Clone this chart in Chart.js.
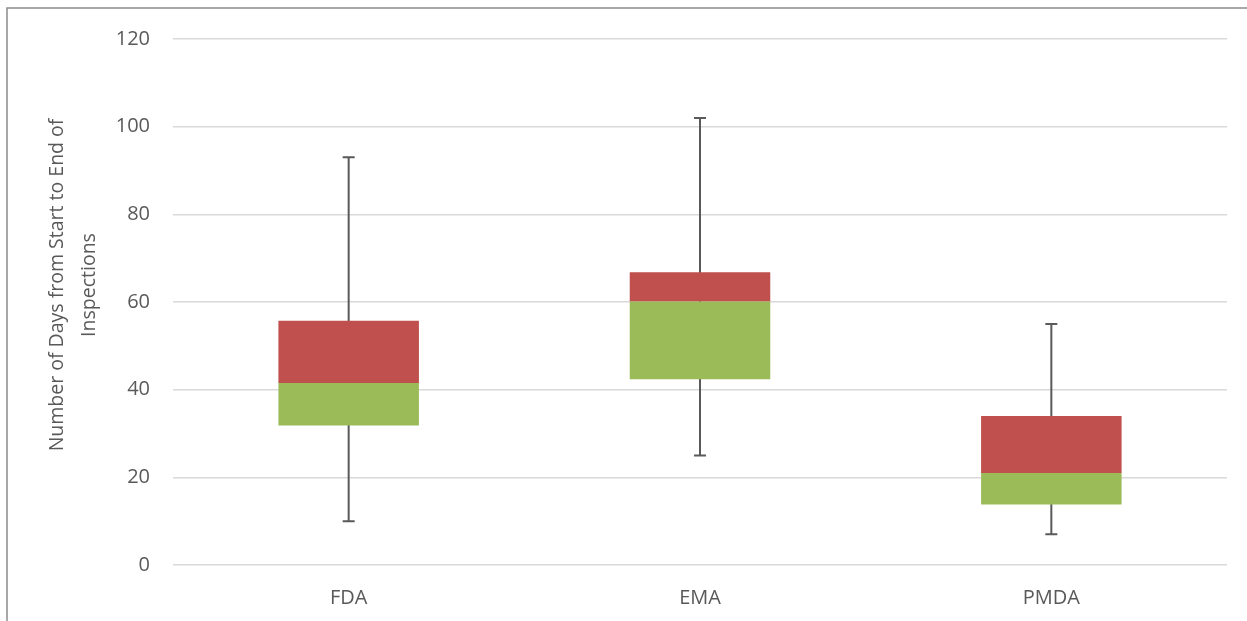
<!DOCTYPE html>
<html>
<head>
<meta charset="utf-8">
<script src="https://cdn.jsdelivr.net/npm/chart.js@4/dist/chart.umd.min.js"></script>
<style>
html,body{margin:0;padding:0;background:#fff;}
#wrap{width:1247px;height:621px;position:relative;}
</style>
</head>
<body>
<div id="wrap"><canvas id="c" width="1247" height="621"></canvas></div>
<script>
const categories = ['FDA', 'EMA', 'PMDA'];
const minValues = [10, 25, 7];
const q1Values = [31.8, 42.4, 13.8];
const medianValues = [41.5, 60.1, 21.0];
const q3Values = [55.7, 66.8, 34.0];
const maxValues = [93, 102, 55];
const yTicks = [0, 20, 40, 60, 80, 100, 120];
const yTitleLines = ['Number of Days from Start to End of', 'Inspections'];

const FONT = '"Open Sans", sans-serif';

const whiskerPlugin = {
  id: 'whiskers',
  beforeDraw(chart) {
    const ctx = chart.ctx;
    ctx.save();
    ctx.fillStyle = '#ffffff';
    ctx.fillRect(0, 0, chart.width, chart.height);
    ctx.strokeStyle = '#8c8c8c';
    ctx.lineWidth = 1.5;
    ctx.beginPath();
    ctx.moveTo(7, chart.height + 5);
    ctx.lineTo(7, 8);
    ctx.lineTo(chart.width + 5, 8);
    ctx.stroke();
    ctx.restore();
  },
  beforeDatasetsDraw(chart) {
    const ctx = chart.ctx;
    const xs = chart.scales.x, ys = chart.scales.y;
    ctx.save();
    ctx.strokeStyle = '#5a5a5a';
    ctx.lineWidth = 2;
    categories.forEach((c, i) => {
      const x = xs.getPixelForValue(i);
      const yMin = ys.getPixelForValue(minValues[i]);
      const yMax = ys.getPixelForValue(maxValues[i]);
      ctx.beginPath();
      ctx.moveTo(x, yMin);
      ctx.lineTo(x, yMax);
      ctx.moveTo(x - 6, yMin);
      ctx.lineTo(x + 6, yMin);
      ctx.moveTo(x - 6, yMax);
      ctx.lineTo(x + 6, yMax);
      ctx.stroke();
    });
    ctx.restore();
  },
  afterDraw(chart) {
    const ctx = chart.ctx;
    ctx.save();
    ctx.translate(57, 285);
    ctx.rotate(-Math.PI / 2);
    ctx.fillStyle = '#595959';
    ctx.font = '19.5px ' + FONT;
    ctx.textAlign = 'center';
    ctx.textBaseline = 'middle';
    yTitleLines.forEach((t, i) => ctx.fillText(t, 0, i * 32));
    ctx.restore();
  }
};

new Chart(document.getElementById('c'), {
  type: 'bar',
  data: {
    labels: categories,
    datasets: [
      {
        label: 'Q1-Median',
        data: categories.map((c, i) => [q1Values[i], medianValues[i]]),
        backgroundColor: '#9BBB59',
        borderWidth: 0,
        categoryPercentage: 0.4,
        barPercentage: 1.0
      },
      {
        label: 'Median-Q3',
        data: categories.map((c, i) => [medianValues[i], q3Values[i]]),
        backgroundColor: '#C0504D',
        borderWidth: 0,
        categoryPercentage: 0.4,
        barPercentage: 1.0
      }
    ]
  },
  options: {
    responsive: false,
    animation: false,
    layout: { padding: { left: 0, right: 20, top: 39, bottom: 0 } },
    plugins: { legend: { display: false }, tooltip: { enabled: false } },
    scales: {
      x: {
        stacked: true,
        grid: { display: false },
        border: { display: false },
        ticks: { color: '#595959', font: { family: FONT, size: 20 }, padding: 13 },
        afterFit(s) { s.height = 56; }
      },
      y: {
        min: 0,
        max: 120,
        afterBuildTicks(s) { s.ticks = yTicks.map(v => ({ value: v })); },
        grid: { color: '#d9d9d9', lineWidth: 1.5, drawTicks: false },
        border: { display: false },
        ticks: { color: '#595959', font: { family: FONT, size: 20 }, padding: 23 },
        afterFit(s) { s.width = 173; }
      }
    }
  },
  plugins: [whiskerPlugin]
});
</script>
</body>
</html>
